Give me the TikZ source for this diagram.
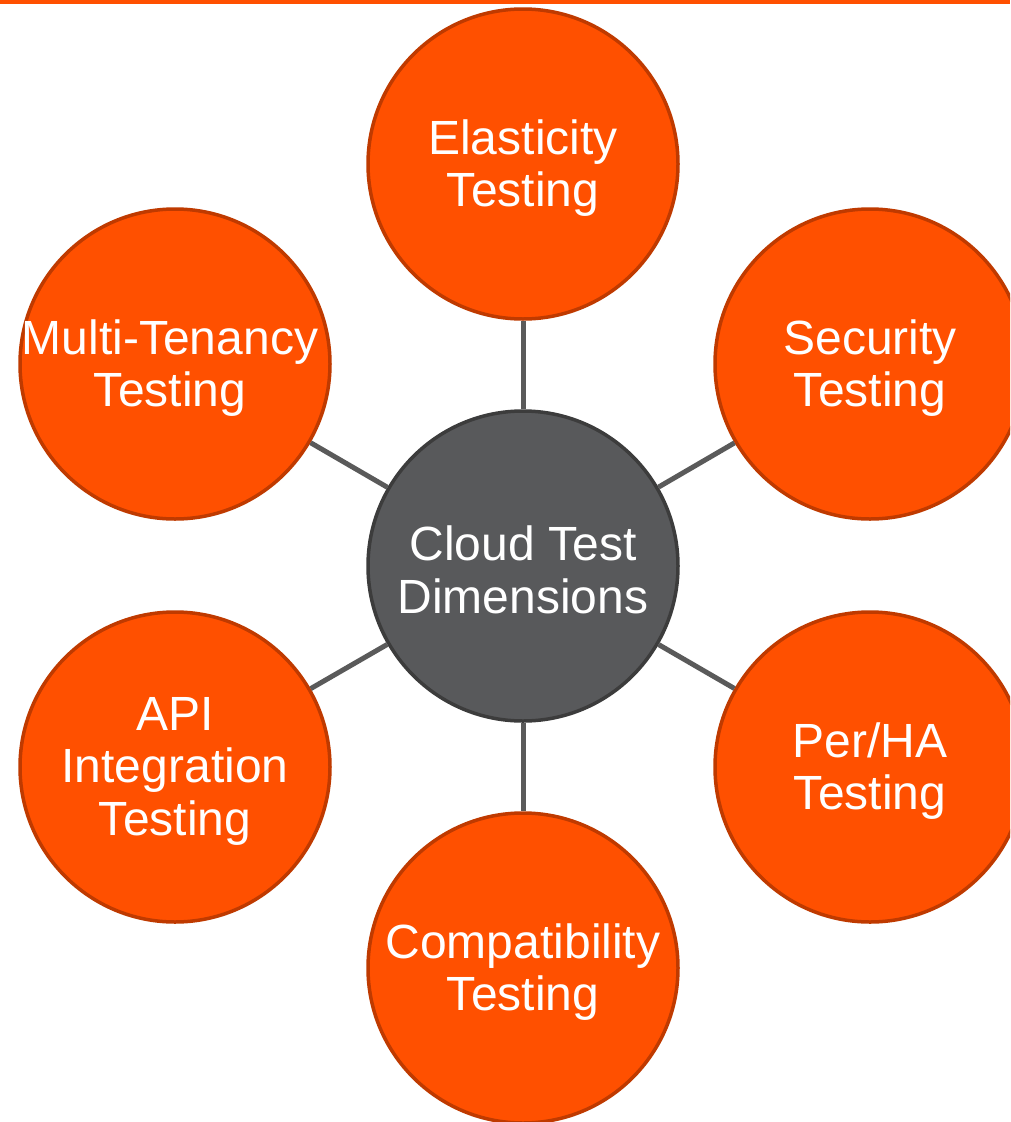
\documentclass[tikz,border=0pt]{standalone}
\usepackage{fontspec}
\setmainfont{Liberation Sans}
\definecolor{orfill}{HTML}{FF5000}
\definecolor{ordraw}{HTML}{BF3A00}
\definecolor{cfill}{HTML}{58595B}
\definecolor{cdraw}{HTML}{3C3C3C}
\definecolor{conn}{HTML}{5A5A5A}
\begin{document}
\begin{tikzpicture}[x=1pt,y=-1pt,
  outer/.style={circle,fill=orfill,draw=ordraw,line width=3.5pt,minimum size=310pt,inner sep=0pt,
    text=white,align=center,font=\fontsize{48}{52.5}\selectfont},
  center/.style={outer,fill=cfill,draw=cdraw},
  connline/.style={draw=conn,line width=5pt},
  lbl/.style={text=white,align=center,font=\fontsize{48}{52.5}\selectfont,inner sep=0pt}]
\useasboundingbox (0,0) rectangle (1010,1122);
\clip (0,0) rectangle (1010,1122);
\fill[orfill] (0,0) rectangle (1010,4);
\node[center] (c) at (523,566) {};
\node[outer] (e) at (523,164) {};
\node[outer] (s) at (870,364) {};
\node[outer] (p) at (870,767) {};
\node[outer] (k) at (523,968) {};
\node[outer] (a) at (175,767) {};
\node[outer] (m) at (175,364) {};
\foreach \n in {e,s,p,k,a,m} \draw[connline] (c) -- (\n);
\node[lbl] (tc) at ([yshift=-4pt]c.center) {Cloud Test\\Dimensions};
\node[lbl] (te) at ([yshift=-4pt]e.center) {Elasticity\\Testing};
\node[lbl] (ts) at ([yshift=-4pt]s.center) {Security\\Testing};
\node[lbl] (tp) at ([yshift=-4pt]p.center) {Per/HA\\Testing};
\node[lbl] (tk) at ([yshift=-4pt]k.center) {Compatibility\\Testing};
\node[lbl] (ta) at ([yshift=-4pt]a.center) {API\\Integration\\Testing};
\node[lbl] (tm) at ([xshift=-5pt,yshift=-4pt]m.center) {Multi-Tenancy\\Testing};
\end{tikzpicture}
\end{document}
